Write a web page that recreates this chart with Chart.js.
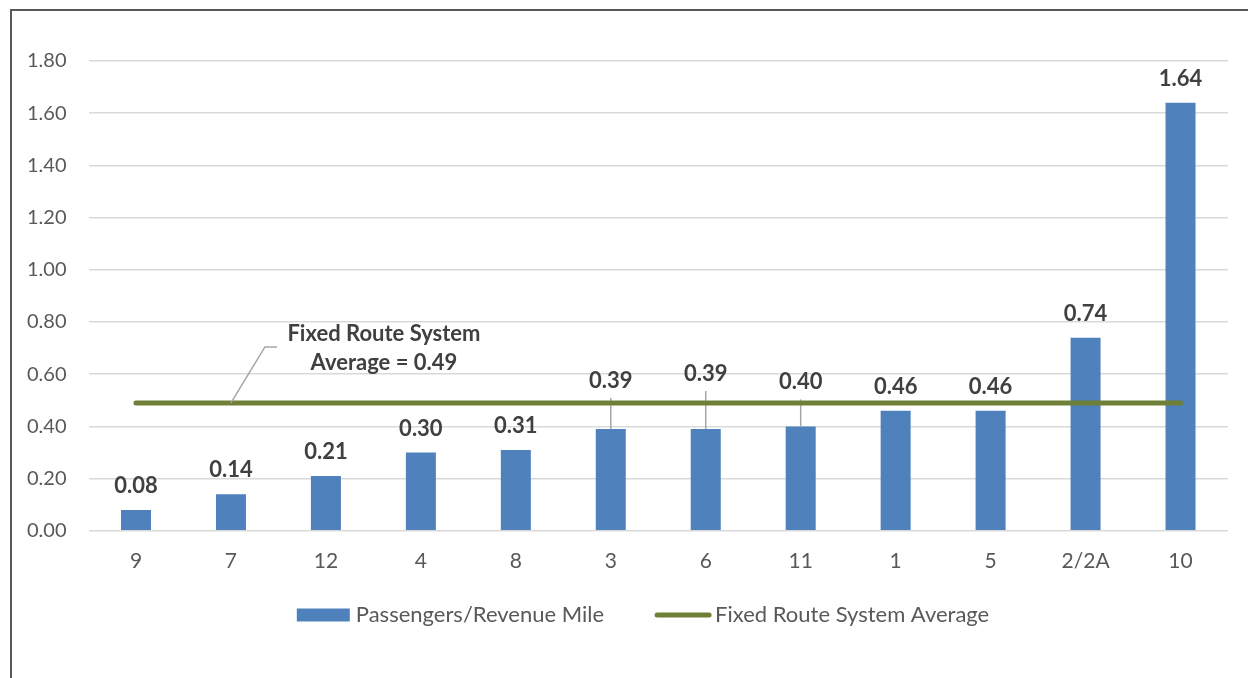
<!DOCTYPE html>
<html>
<head>
<meta charset="utf-8">
<script src="https://cdn.jsdelivr.net/npm/chart.js@4.4.0/dist/chart.umd.min.js"></script>
<style>
  html, body { margin: 0; padding: 0; background: #fff; overflow: hidden; }
  #wrap { position: relative; width: 1248px; height: 678px; }
  #frame { position: absolute; left: 10px; top: 9px; width: 1300px; height: 700px; border: 2px solid #595959; }
  #chart { position: absolute; left: 0; top: 0; }
</style>
</head>
<body>
<div id="wrap">
  <div id="frame"></div>
  <canvas id="chart" width="1248" height="678"></canvas>
</div>
<script>
const routes = ["9", "7", "12", "4", "8", "3", "6", "11", "1", "5", "2/2A", "10"];
const passengersPerMile = [0.08, 0.14, 0.21, 0.30, 0.31, 0.39, 0.39, 0.40, 0.46, 0.46, 0.74, 1.64];
const systemAverage = 0.49;
const averageNote = ["Fixed Route System", "Average = 0.49"];

const BAR_BLUE = "#4f81bd";
const AVG_GREEN = "#6e7f37";
const FONT = "Lato, 'Open Sans', sans-serif";

// value labels above bars; a few are lifted clear of the average line with a leader
const barLabels = {
  id: "barLabels",
  afterDatasetDraw(chart, args, opts) {
    if (args.index !== 0) return;
    const ctx = chart.ctx;
    ctx.save();
    ctx.strokeStyle = "#a6a6a6";
    ctx.lineWidth = 1.5;
    chart.getDatasetMeta(0).data.forEach((bar, i) => {
      const lift = opts.lift[i];
      if (!lift) return;
      const y = bar.y - opts.offset - lift;
      ctx.beginPath();
      ctx.moveTo(bar.x, y + 17);
      ctx.lineTo(bar.x, bar.y);
      ctx.stroke();
    });
    ctx.restore();
  },
  afterDatasetsDraw(chart, args, opts) {
    const ctx = chart.ctx;
    ctx.save();
    ctx.font = "bold 22px " + FONT;
    ctx.fillStyle = "#404040";
    ctx.textAlign = "center";
    ctx.textBaseline = "middle";
    chart.getDatasetMeta(0).data.forEach((bar, i) => {
      const y = bar.y - opts.offset - (opts.lift[i] || 0);
      ctx.fillText(passengersPerMile[i].toFixed(2), bar.x, y);
    });

    // callout for the system average line
    const x0 = chart.scales.x.getPixelForValue(1);
    const y0 = chart.scales.y.getPixelForValue(systemAverage);
    ctx.strokeStyle = "#a6a6a6";
    ctx.lineWidth = 1.5;
    ctx.beginPath();
    ctx.moveTo(x0, y0);
    ctx.lineTo(x0 + 34, y0 - 56);
    ctx.lineTo(x0 + 46, y0 - 56);
    ctx.stroke();
    averageNote.forEach((line, k) => {
      ctx.fillText(line, x0 + 153, y0 - 69 + k * 29);
    });
    ctx.restore();
  }
};

// legend drawn below the axis: blue box for bars, thick green stroke for the average
const bottomLegend = {
  id: "bottomLegend",
  afterDraw(chart) {
    const ctx = chart.ctx;
    const y = 615;
    ctx.save();
    ctx.font = "22px " + FONT;
    ctx.textBaseline = "middle";
    const t1 = chart.data.datasets[0].label;
    const t2 = chart.data.datasets[1].label;
    const w1 = ctx.measureText(t1).width;
    const w2 = ctx.measureText(t2).width;
    const total = 53 + 6 + w1 + 51 + 56 + 4 + w2;
    let x = 643 - total / 2;
    ctx.fillStyle = BAR_BLUE;
    ctx.fillRect(x, y - 6.5, 53, 13);
    x += 59;
    ctx.fillStyle = "#595959";
    ctx.fillText(t1, x, y);
    x += w1 + 51;
    ctx.strokeStyle = AVG_GREEN;
    ctx.lineWidth = 5;
    ctx.lineCap = "round";
    ctx.beginPath();
    ctx.moveTo(x + 2, y);
    ctx.lineTo(x + 54, y);
    ctx.stroke();
    x += 60;
    ctx.fillText(t2, x, y);
    ctx.restore();
  }
};

new Chart(document.getElementById("chart"), {
  type: "bar",
  data: {
    labels: routes,
    datasets: [
      {
        label: "Passengers/Revenue Mile",
        data: passengersPerMile,
        backgroundColor: BAR_BLUE,
        categoryPercentage: 1,
        barPercentage: 0.316,
        order: 1
      },
      {
        type: "line",
        label: "Fixed Route System Average",
        data: routes.map(() => systemAverage),
        borderColor: AVG_GREEN,
        borderWidth: 5,
        borderCapStyle: "round",
        pointRadius: 0,
        order: 0
      }
    ]
  },
  options: {
    responsive: false,
    animation: false,
    layout: { padding: { top: 61, left: 5, right: 20, bottom: 94 } },
    plugins: {
      legend: { display: false },
      tooltip: { enabled: false },
      barLabels: { offset: 24, lift: { 5: 24, 6: 31, 7: 20 } }
    },
    scales: {
      x: {
        grid: { display: false },
        border: { display: false },
        ticks: { color: "#595959", font: { family: FONT, size: 21 }, padding: 10 }
      },
      y: {
        min: 0,
        max: 1.8,
        grid: { color: "#d9d9d9", lineWidth: 1.5, drawTicks: false },
        border: { display: false },
        ticks: {
          stepSize: 0.2,
          padding: 22,
          color: "#595959",
          font: { family: FONT, size: 20 },
          callback: (v) => v.toFixed(2)
        }
      }
    }
  },
  plugins: [barLabels, bottomLegend]
});
</script>
</body>
</html>
